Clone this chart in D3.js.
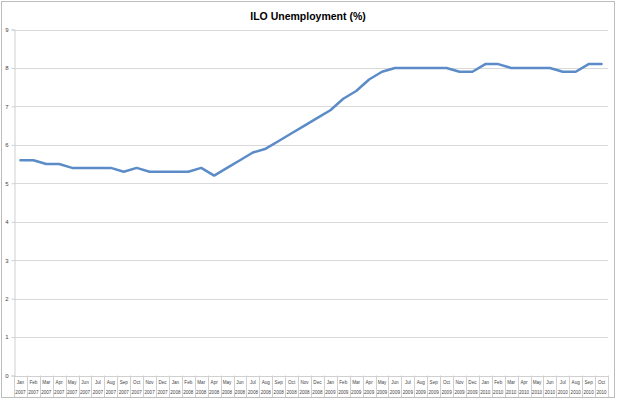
<!DOCTYPE html>
<html><head><meta charset="utf-8">
<script src="https://cdn.jsdelivr.net/npm/d3@7"></script>
<style>body{margin:0;background:#fff;}svg{display:block;font-family:"Liberation Sans",Arial,sans-serif;}</style>
</head><body><svg id="c" width="618" height="400"></svg>
<script>
const months = ["Jan","Feb","Mar","Apr","May","Jun","Jul","Aug","Sep","Oct","Nov","Dec",
"Jan","Feb","Mar","Apr","May","Jun","Jul","Aug","Sep","Oct","Nov","Dec",
"Jan","Feb","Mar","Apr","May","Jun","Jul","Aug","Sep","Oct","Nov","Dec",
"Jan","Feb","Mar","Apr","May","Jun","Jul","Aug","Sep","Oct"];
const years = ["2007","2007","2007","2007","2007","2007","2007","2007","2007","2007","2007","2007",
"2008","2008","2008","2008","2008","2008","2008","2008","2008","2008","2008","2008",
"2009","2009","2009","2009","2009","2009","2009","2009","2009","2009","2009","2009",
"2010","2010","2010","2010","2010","2010","2010","2010","2010","2010"];
const unemployment = [5.6,5.6,5.5,5.5,5.4,5.4,5.4,5.4,5.3,5.4,5.3,5.3,
5.3,5.3,5.4,5.2,5.4,5.6,5.8,5.9,6.1,6.3,6.5,6.7,
6.9,7.2,7.4,7.7,7.9,8.0,8.0,8.0,8.0,8.0,7.9,7.9,
8.1,8.1,8.0,8.0,8.0,8.0,7.9,7.9,8.1,8.1];
const yTicks = [0,1,2,3,4,5,6,7,8,9];
const title = "ILO Unemployment (%)";

const svg = d3.select("#c");
const L = 14, R = 608, T = 29.5, B = 375.5;
const idx = d3.range(months.length);
const x = d3.scaleBand().domain(idx).range([L, R]);
const y = d3.scaleLinear().domain([0, 9]).range([B, T]);

// outer border
svg.append("rect").attr("x",1.5).attr("y",1.5).attr("width",613).attr("height",396)
  .attr("fill","#fff").attr("stroke","#bdbdbd").attr("stroke-width",1);

svg.append("text").attr("x",308).attr("y",20).attr("text-anchor","middle")
  .attr("font-size",10.5).attr("font-weight","bold").attr("fill","#000").text(title);

// gridlines
svg.append("g").selectAll("line").data(yTicks.filter(d=>d>0)).join("line")
  .attr("x1",L).attr("x2",R).attr("y1",d=>Math.round(y(d))+0.5).attr("y2",d=>Math.round(y(d))+0.5)
  .attr("stroke","#d9d9d9").attr("stroke-width",1);

// y axis
const yAxis = d3.axisLeft(y).tickValues(yTicks).tickSize(3).tickPadding(3);
const gy = svg.append("g").attr("transform",`translate(${L+0.5},0)`).call(yAxis);
gy.select(".domain").attr("stroke","#d0d0d0");
gy.selectAll(".tick line").attr("stroke","#d0d0d0");
gy.selectAll(".tick text").attr("font-size",6).attr("fill","#444").attr("x",-6);

// x axis line
svg.append("line").attr("x1",L).attr("x2",R).attr("y1",Math.round(B)+0.5).attr("y2",Math.round(B)+0.5)
  .attr("stroke","#d0d0d0");
// category separators
const bounds = d3.range(months.length+1).map(i => i < months.length ? x(i) : x(months.length-1)+x.bandwidth());
svg.append("g").selectAll("line").data(bounds).join("line")
  .attr("x1",d=>Math.round(d)+0.5).attr("x2",d=>Math.round(d)+0.5)
  .attr("y1",B).attr("y2",397).attr("stroke","#d0d0d0");

const gx = svg.append("g");
gx.selectAll("text.m").data(idx).join("text").attr("class","m")
  .attr("x",i=>x(i)+x.bandwidth()/2).attr("y",384).attr("text-anchor","middle")
  .attr("font-size",4.6).attr("fill","#444").text(i=>months[i]);
gx.selectAll("text.yr").data(idx).join("text").attr("class","yr")
  .attr("x",i=>x(i)+x.bandwidth()/2).attr("y",394).attr("text-anchor","middle")
  .attr("font-size",4.6).attr("fill","#444").text(i=>years[i]);

// line
const line = d3.line().x((d,i)=>x(i)+x.bandwidth()/2).y(d=>y(d));
svg.append("path").datum(unemployment).attr("d",line)
  .attr("fill","none").attr("stroke","#5b8cc8").attr("stroke-width",2.5)
  .attr("stroke-linejoin","round").attr("stroke-linecap","round");
</script></body></html>
